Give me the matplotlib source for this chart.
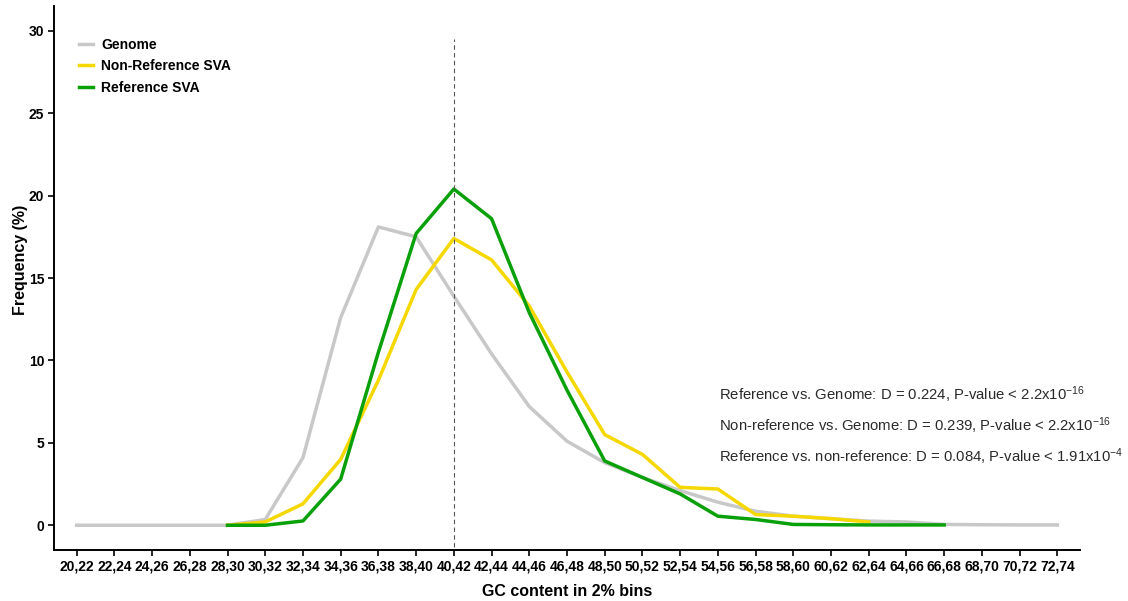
import matplotlib
matplotlib.use("Agg")
import matplotlib.pyplot as plt
from matplotlib import font_manager as fm

plt.rcParams['font.family'] = ['Liberation Sans', 'DejaVu Sans']
plt.rcParams['mathtext.fontset'] = 'custom'
plt.rcParams['mathtext.rm'] = 'Liberation Sans'
plt.rcParams['mathtext.it'] = 'Liberation Sans:italic'
plt.rcParams['mathtext.bf'] = 'Liberation Sans:bold'

names = {f.name for f in fm.fontManager.ttflist}
NARROW = 'Liberation Sans Narrow' if 'Liberation Sans Narrow' in names else 'Liberation Sans'

bins = ["20,22", "22,24", "24,26", "26,28", "28,30", "30,32", "32,34", "34,36",
        "36,38", "38,40", "40,42", "42,44", "44,46", "46,48", "48,50", "50,52",
        "52,54", "54,56", "56,58", "58,60", "60,62", "62,64", "64,66", "66,68",
        "68,70", "70,72", "72,74"]

genome = [0, 0, 0, 0, 0, 0.35, 4.1, 12.6, 18.1, 17.5, 13.9, 10.4, 7.2, 5.1,
          3.8, 2.9, 2.1, 1.4, 0.85, 0.55, 0.4, 0.25, 0.2, 0.05, 0.03, 0.02, 0.02]
nonref_bins = bins[4:22]
nonref = [0, 0.2, 1.3, 4.0, 8.8, 14.3, 17.4, 16.1, 13.3, 9.3, 5.5, 4.3, 2.3,
          2.2, 0.65, 0.55, 0.4, 0.2]
ref_bins = bins[4:24]
ref = [0, 0, 0.26, 2.8, 10.5, 17.7, 20.4, 18.6, 12.9, 8.2, 3.9, 2.9, 1.9,
       0.55, 0.35, 0.05, 0.03, 0.02, 0.02, 0.02]

labels = ["Genome", "Non-Reference SVA", "Reference SVA"]
colors = ["#c8c8c8", "#f5d800", "#0aa00a"]
vline_bin = "40,42"
stats = ["Reference vs. Genome: D = 0.224, P-value < 2.2x10$^{\\mathregular{-16}}$",
         "Non-reference vs. Genome: D = 0.239, P-value < 2.2x10$^{\\mathregular{-16}}$",
         "Reference vs. non-reference: D = 0.084, P-value < 1.91x10$^{\\mathregular{-4}}$"]

idx = {b: i for i, b in enumerate(bins)}

fig = plt.figure(figsize=(11.28, 6.01), dpi=100)
ax = fig.add_axes([0.0479, 0.0849, 0.9095, 0.905])

ax.plot([idx[b] for b in bins], genome, color=colors[0], lw=2.5, label=labels[0])
ax.plot([idx[b] for b in nonref_bins], nonref, color=colors[1], lw=2.5, label=labels[1])
ax.plot([idx[b] for b in ref_bins], ref, color=colors[2], lw=2.5, label=labels[2])

ax.vlines(idx[vline_bin], -1.3, 29.5, colors="#555555", linestyles=(0, (4, 3)), lw=0.8)

ax.set_xlim(-0.6, len(bins) - 0.4)
ax.set_ylim(-1.5, 31.5)
ax.set_xticks(range(len(bins)))
ax.set_xticklabels(bins, fontsize=10, fontweight='bold', family=[NARROW, 'DejaVu Sans'])
ax.set_yticks([0, 5, 10, 15, 20, 25, 30])
ax.set_yticklabels(["0", "5", "10", "15", "20", "25", "30"], fontsize=10,
                   fontweight='bold', family=[NARROW, 'DejaVu Sans'])
ax.tick_params(axis='both', length=4, width=1.2, color='black', pad=3)

for s in ['top', 'right']:
    ax.spines[s].set_visible(False)
for s in ['left', 'bottom']:
    ax.spines[s].set_linewidth(1.4)

ax.set_xlabel("GC content in 2% bins", fontsize=11.5, fontweight='bold',
              family=[NARROW, 'DejaVu Sans'], va='center')
ax.xaxis.set_label_coords(0.5, -0.077)
ax.set_ylabel("Frequency (%)", fontsize=11.5, fontweight='bold',
              family=[NARROW, 'DejaVu Sans'], va='center')
ax.yaxis.set_label_coords(-0.033, 0.533)

leg = ax.legend(loc='upper left', bbox_to_anchor=(0.012, 0.965), frameon=False,
                handlelength=1.0, handletextpad=0.6, labelspacing=0.55,
                prop={'weight': 'bold', 'size': 10})

for k, s in enumerate(stats):
    ax.text(0.648, 0.285 - k * 0.057, s, transform=ax.transAxes, fontsize=10.7,
            ha='left', va='center', color='#2a2a2a')

fig.savefig("out.png", dpi=100)
